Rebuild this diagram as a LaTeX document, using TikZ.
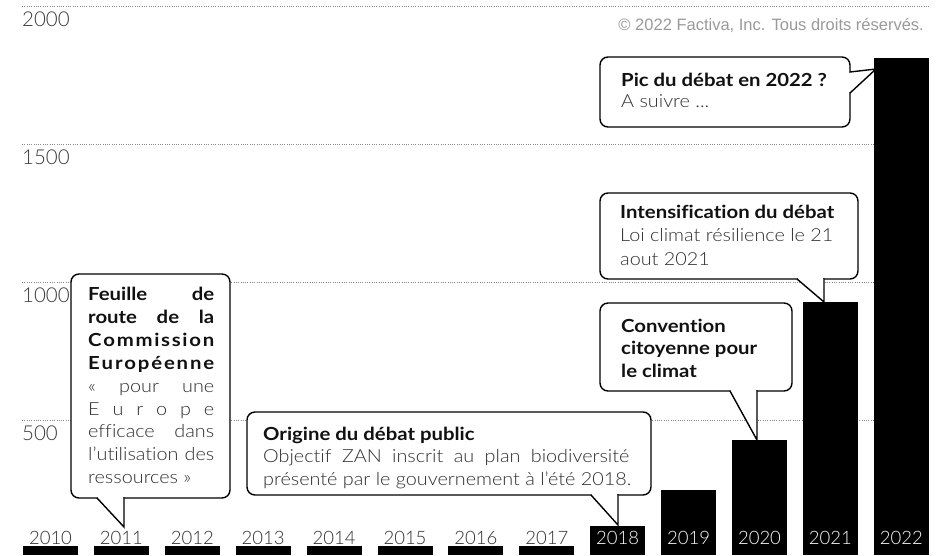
\documentclass[tikz,border=0pt]{standalone}
\usepackage{fontspec}
\setmainfont{Lato}[Ligatures=NoCommon]
\newfontfamily\headfont{Lato}[Ligatures=NoCommon, FakeStretch=1.13]
\newfontfamily\lightfont{Lato Light}[Ligatures=NoCommon, FakeStretch=1.10]
\newfontfamily\numfont{Lato Light}
\newfontfamily\copyfont{Liberation Sans}
\usetikzlibrary{calc}

\definecolor{ink}{HTML}{111111}
\definecolor{soft}{HTML}{2E2E2E}
\definecolor{axisgray}{HTML}{3A3A3A}
\definecolor{notegray}{HTML}{9A9A9A}
\definecolor{gridgray}{HTML}{8A8A8A}

\begin{document}
\begin{tikzpicture}[x=1pt,y=-1pt,
  gridline/.style={draw=gridgray, line width=0.8pt, dash pattern=on 0.9pt off 1.4pt},
  axislabel/.style={anchor=base west, inner sep=0pt, text=axisgray, font=\numfont\fontsize{20.5}{20.5}\selectfont},
  bar/.style={fill=black, inner sep=0pt, outer sep=0pt, minimum width=55pt},
  yearlabel/.style={anchor=base, inner sep=0pt, font=\numfont\fontsize{18.5}{18.5}\selectfont},
  callout/.style={draw=black, fill=white, line width=1.4pt, rounded corners=8pt},
  tail/.style={draw=black, line width=1.4pt, line join=miter, line cap=butt},
  head/.style={anchor=base west, inner sep=0pt, text=ink, font=\headfont\bfseries\fontsize{18}{18}\selectfont},
  body/.style={anchor=base west, inner sep=0pt, text=soft, font=\lightfont\fontsize{18}{18}\selectfont},
  copy/.style={anchor=base east, inner sep=0pt, text=notegray, font=\copyfont\fontsize{16.5}{16.5}\selectfont}
]
\useasboundingbox (0,0) rectangle (944,555);
\fill[white] (0,0) rectangle (944,555);

% value grid
\foreach \gy in {6,144,282,420} {
  \draw[gridline] (22,\gy) -- (930,\gy);
}
\node[axislabel] (l2000) at (22,26)  {2000};
\node[axislabel] (l1500) at (22,164) {1500};
\node[axislabel] (l1000) at (22,302) {1000};
\node[axislabel] (l500)  at (22,440) {500};

\node[copy] (source) at (924,30) {© 2022 Factiva, Inc. Tous droits réservés.};

% yearly bars
\foreach \i/\top in {0/546,1/546,2/546,3/546,4/546,5/546,6/546,7/546,8/526,9/490,10/440,11/302,12/58} {
  \node[bar, minimum height={555-\top}, anchor=south west] (b\i) at ({23+70.9*\i},555) {};
}
% year labels
\foreach \i in {0,...,12} {
  \pgfmathtruncatemacro{\yr}{2010+\i}
  \ifnum\i<8 \def\yc{soft}\else\def\yc{white}\fi
  \node[yearlabel, text=\yc] (y\i) at ({23+70.9*\i+27.5},544) {\yr};
}

% pointer tips
\coordinate (t11) at (124,527);
\coordinate (t18) at (618,525);
\coordinate (t20) at (757,440);
\coordinate (t21) at (824,302);
\coordinate (t22) at (876,69);

% --- Pic du debat (pointer to the right)
\draw[callout] (600,57) rectangle (850,127);
\fill[white] (850,72) -- (t22) -- (850,93) -- cycle;
\fill[white] (849.2,73) rectangle (850.8,92);
\draw[tail] (850,72) -- (t22) -- (850,93);
\node[head] (c1a) at (621,86)  {Pic du débat en 2022 ?};
\node[body] (c1b) at (621,107) {A suivre ...};

% --- Intensification du debat
\draw[callout] (600,193) rectangle (858,279);
\fill[white] (797,279) -- (t21) -- (824,279) -- cycle;
\fill[white] (798,278.2) rectangle (823.3,279.8);
\draw[tail] (797,279) -- (t21) -- (824,278.3);
\node[head] (c2a) at (620,218)   {Intensification du débat};
\node[body] (c2b) at (620,241.5) {Loi climat résilience le 21};
\node[body] (c2c) at (620,265)   {aout 2021};

% --- Convention citoyenne
\draw[callout] (600,303) rectangle (792,391);
\fill[white] (730,391) -- (t20) -- (757,391) -- cycle;
\fill[white] (731,390.2) rectangle (756.3,391.8);
\draw[tail] (730,391) -- (t20) -- (757,390.3);
\node[head] (c3a) at (621,332)   {Convention};
\node[head] (c3b) at (621,354.5) {citoyenne pour};
\node[head] (c3c) at (621,377)   {le climat};

% --- Origine du debat public
\draw[callout] (247,412) rectangle (651,495);
\fill[white] (591,495) -- (t18) -- (618,495) -- cycle;
\fill[white] (592,494.2) rectangle (617.3,495.8);
\draw[tail] (591,495) -- (t18) -- (618,494.3);
\node[head] (c4a) at (263,440)   {Origine du débat public};
\node[body] (c4b) at (263,462.5) {\makebox[366pt][s]{Objectif ZAN inscrit au plan biodiversité}};
\node[body] (c4c) at (263,485)   {présenté par le gouvernement à l’été 2018.};

% --- Feuille de route
\draw[callout] (71,274) rectangle (230,498);
\fill[white] (97,498) -- (t11) -- (124,498) -- cycle;
\fill[white] (98,497.2) rectangle (123.3,498.8);
\draw[tail] (97,498) -- (t11) -- (124,497.3);
\node[head] (c5a) at (88,300.5) {\makebox[126pt][s]{Feuille de}};
\node[head] (c5b) at (88,323.4) {\makebox[126pt][s]{route de la}};
\node[head] (c5c) at (88,346.3) {\makebox[126pt][s]{C\hfil o\hfil m\hfil m\hfil i\hfil s\hfil s\hfil i\hfil o\hfil n}};
\node[head] (c5d) at (88,369.2) {\makebox[126pt][s]{E\hfil u\hfil r\hfil o\hfil p\hfil é\hfil e\hfil n\hfil n\hfil e}};
\node[body] (c5e) at (88,392.1) {\makebox[126pt][s]{« pour une}};
\node[body] (c5f) at (88,415)   {\makebox[126pt][s]{E\hfil u\hfil r\hfil o\hfil p\hfil e}};
\node[body] (c5g) at (88,437.9) {\makebox[126pt][s]{efficace dans}};
\node[body] (c5h) at (88,460.8) {\makebox[126pt][s]{l’utilisation des}};
\node[body] (c5i) at (88,483.7) {ressources »};
\end{tikzpicture}
\end{document}
